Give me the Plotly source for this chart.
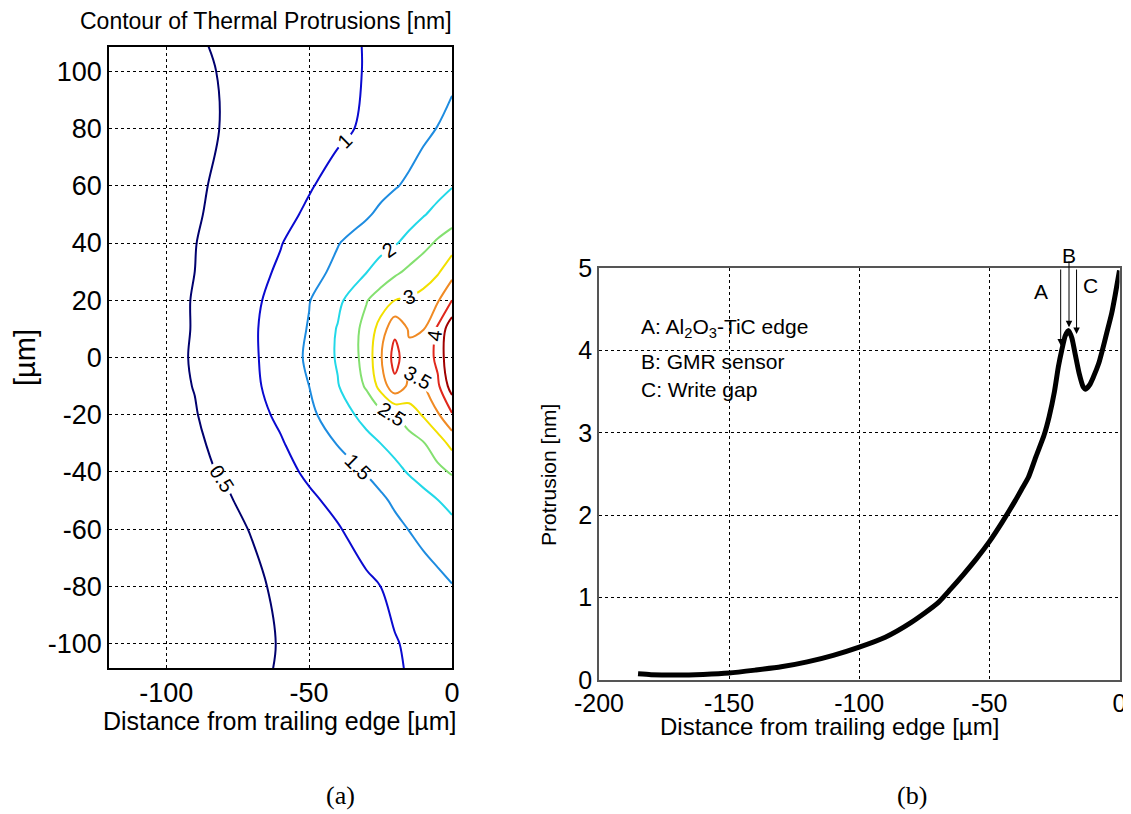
import plotly.graph_objects as go

# ---- (a) contour of thermal protrusion [nm] ----
grid_x = [-120, -110, -100, -90, -80, -70, -60, -50, -40, -30, -25, -20, -15, -10, -5, 0]
grid_y = [-110, -100, -80, -60, -50, -40, -30, -20, -10, 0, 10, 20, 30, 40, 50, 60, 80, 100, 110]
grid_z = [
    [0.21, 0.26, 0.31, 0.36, 0.40, 0.45, 0.52, 0.62, 0.74, 0.85, 0.91, 0.96, 1.02, 1.09, 1.16, 1.23],
    [0.21, 0.26, 0.31, 0.36, 0.41, 0.45, 0.51, 0.63, 0.75, 0.86, 0.92, 0.98, 1.04, 1.12, 1.20, 1.28],
    [0.22, 0.27, 0.32, 0.37, 0.42, 0.455, 0.54, 0.67, 0.80, 0.93, 1.00, 1.08, 1.17, 1.27, 1.37, 1.48],
    [0.22, 0.28, 0.34, 0.39, 0.44, 0.51, 0.66, 0.81, 0.97, 1.17, 1.27, 1.40, 1.51, 1.64, 1.76, 1.88],
    [0.23, 0.29, 0.35, 0.40, 0.45, 0.59, 0.76, 0.93, 1.10, 1.33, 1.43, 1.56, 1.70, 1.84, 1.99, 2.12],
    [0.24, 0.31, 0.38, 0.44, 0.52, 0.68, 0.87, 1.07, 1.30, 1.52, 1.64, 1.86, 2.04, 2.20, 2.38, 2.55],
    [0.22, 0.29, 0.37, 0.45, 0.58, 0.77, 0.96, 1.23, 1.52, 1.84, 2.00, 2.16, 2.32, 2.47, 2.75, 3.15],
    [0.22, 0.30, 0.39, 0.48, 0.66, 0.85, 1.08, 1.40, 1.75, 2.17, 2.33, 2.50, 2.73, 3.05, 3.45, 3.95],
    [0.22, 0.31, 0.41, 0.51, 0.72, 0.91, 1.18, 1.50, 1.97, 2.55, 3.17, 3.85, 3.40, 3.45, 3.90, 4.75],
    [0.22, 0.30, 0.40, 0.53, 0.70, 0.93, 1.22, 1.58, 2.05, 2.66, 3.44, 4.20, 3.62, 3.66, 4.13, 5.00],
    [0.21, 0.29, 0.39, 0.52, 0.71, 0.94, 1.21, 1.53, 2.03, 2.65, 3.20, 3.88, 3.45, 3.49, 4.08, 4.85],
    [0.21, 0.29, 0.39, 0.52, 0.72, 0.91, 1.16, 1.48, 1.88, 2.47, 2.73, 3.00, 3.05, 3.15, 3.45, 4.00],
    [0.20, 0.28, 0.38, 0.50, 0.68, 0.86, 1.06, 1.34, 1.60, 1.98, 2.20, 2.40, 2.60, 2.78, 2.94, 3.30],
    [0.19, 0.27, 0.37, 0.49, 0.64, 0.82, 0.98, 1.23, 1.48, 1.71, 1.83, 1.96, 2.14, 2.35, 2.57, 2.78],
    [0.19, 0.27, 0.36, 0.46, 0.60, 0.75, 0.89, 1.06, 1.20, 1.45, 1.58, 1.70, 1.82, 1.97, 2.13, 2.25],
    [0.20, 0.29, 0.36, 0.45, 0.56, 0.70, 0.84, 0.97, 1.13, 1.30, 1.38, 1.47, 1.57, 1.70, 1.84, 1.98],
    [0.22, 0.30, 0.37, 0.44, 0.51, 0.60, 0.70, 0.80, 0.93, 1.05, 1.12, 1.20, 1.30, 1.41, 1.51, 1.62],
    [0.20, 0.27, 0.35, 0.44, 0.52, 0.60, 0.69, 0.79, 0.89, 1.02, 1.08, 1.14, 1.21, 1.28, 1.34, 1.41],
    [0.21, 0.28, 0.36, 0.47, 0.54, 0.61, 0.70, 0.80, 0.90, 1.02, 1.07, 1.12, 1.18, 1.25, 1.31, 1.37],
]
levels = [0.5, 1.0, 1.5, 2.0, 2.5, 3.0, 3.5, 4.0, 4.5]
level_colors = ['#00006e', '#0a0ad0', '#1e8ce0', '#22d8e8', '#84e070',
                '#f2e000', '#f08a24', '#e0281c', '#a00000']

a_xticks = [-100, -50, 0]
a_xlabels = ['-100', '-50', '0']
a_yticks = [-100, -80, -60, -40, -20, 0, 20, 40, 60, 80, 100]
a_ylabels = ['-100', '-80', '-60', '-40', '-20', '0', '20', '40', '60', '80', '100']

# ---- (b) protrusion along the centre line ----
dist = [-185, -180, -170, -160, -150, -140, -130, -120, -110, -100, -90, -80, -70, -65,
        -60, -55, -50, -45, -40, -37.5, -35, -32, -29, -27, -25, -23.5, -22.2, -20.8,
        -19.5, -18.3, -17, -15.5, -14, -13, -11.5, -10, -8, -6.6, -5, -3, -1.5, 0]
protrusion = [0.076, 0.065, 0.06, 0.068, 0.085, 0.12, 0.16, 0.22, 0.30, 0.40, 0.52, 0.70, 0.93, 1.1,
              1.28, 1.47, 1.68, 1.92, 2.18, 2.32, 2.46, 2.72, 2.97, 3.2, 3.5, 3.8, 4.0, 4.18,
              4.24, 4.15, 3.95, 3.72, 3.56, 3.53, 3.58, 3.68, 3.84, 4.0, 4.2, 4.45, 4.7, 4.97]

b_xticks = [-200, -150, -100, -50, 0]
b_xlabels = ['-200', '-150', '-100', '-50', '0']
b_yticks = [0, 1, 2, 3, 4, 5]
b_ylabels = ['0', '1', '2', '3', '4', '5']

arrow_names = ['A', 'B', 'C']
arrow_x = [-22.6, -19.4, -16.5]
arrow_tip = [4.06, 4.28, 4.2]
arrow_top = [5.0, 5.1, 5.0]
arrow_label_x = [-30.3, -19.5, -11.1]
arrow_label_y = [4.71, 5.32, 4.79]

legend_lines = ['A: Al<sub>2</sub>O<sub>3</sub>-TiC edge', 'B: GMR sensor', 'C: Write gap']
legend_y = [4.27, 3.86, 3.52]

FONT = 'Arial, Liberation Sans, sans-serif'
SERIF = 'Liberation Serif, Times New Roman, serif'

# the page body adds an 8px margin, so the figure is a bit smaller than the window
OFF = 8
W, H = 1131 - OFF, 814 - OFF

# pixel frame of panel (b), used to place the label that sits above it
B_TOP, B_BOTTOM = 268, 680


def fx(px):
    return (px - OFF) / W


def fy(py):
    return 1 - (py - OFF) / H


n = len(levels) - 1
cscale = [[i / n, c] for i, c in enumerate(level_colors)]

fig = go.Figure()
fig.add_trace(go.Contour(
    x=grid_x, y=grid_y, z=grid_z,
    xaxis='x', yaxis='y',
    zmin=levels[0], zmax=levels[-1],
    autocontour=False,
    contours=dict(start=levels[0], end=levels[-1], size=0.5, coloring='lines',
                  showlabels=True, labelfont=dict(size=20, color='black', family=FONT)),
    colorscale=cscale,
    line=dict(width=2),
    showscale=False,
    hoverinfo='skip',
))

fig.add_trace(go.Scatter(
    x=dist, y=protrusion, xaxis='x2', yaxis='y2',
    mode='lines', line=dict(color='black', width=5, shape='spline', smoothing=0.6),
    showlegend=False, hoverinfo='skip',
))

grid_common = dict(showgrid=True, gridcolor='black', gridwidth=1, griddash='3px,3px',
                   zeroline=False, showline=True, mirror=True, ticks='', automargin=False)

fig.update_layout(
    width=W, height=H,
    margin=dict(l=0, r=0, t=0, b=0),
    paper_bgcolor='white', plot_bgcolor='white',
    showlegend=False,
    font=dict(family=FONT, color='black'),
    xaxis=dict(domain=[fx(109), fx(452)], range=[-120, 0],
               tickvals=a_xticks, ticktext=a_xlabels,
               linecolor='black', linewidth=1.5, tickfont=dict(size=27), anchor='y',
               **grid_common),
    yaxis=dict(domain=[fy(668), fy(47)], range=[-108.5, 108.5],
               tickvals=a_yticks, ticktext=a_ylabels,
               linecolor='black', linewidth=1.5, tickfont=dict(size=27), anchor='x',
               **grid_common),
    xaxis2=dict(domain=[fx(599), fx(1119.5)], range=[-200, 0],
                tickvals=b_xticks, ticktext=b_xlabels,
                linecolor='#555555', linewidth=1.5, tickfont=dict(size=25), anchor='y2',
                **grid_common),
    yaxis2=dict(domain=[fy(B_BOTTOM), fy(B_TOP)], range=[0, 5],
                tickvals=b_yticks, ticktext=b_ylabels,
                linecolor='#555555', linewidth=1.5, tickfont=dict(size=25), anchor='x2',
                **grid_common),
)

ann = []
# titles and axis labels
ann.append(dict(text='Contour of Thermal Protrusions [nm]', x=fx(266), y=fy(21),
                font=dict(size=23)))
ann.append(dict(text='Distance from trailing edge [µm]', x=fx(279), y=fy(721),
                font=dict(size=25)))
ann.append(dict(text='[µm]', x=fx(25), y=fy(358), textangle=-90, font=dict(size=29)))
ann.append(dict(text='Distance from trailing edge [µm]', x=fx(829), y=fy(726),
                font=dict(size=24)))
ann.append(dict(text='Protrusion [nm]', x=fx(548), y=fy(475), textangle=-90,
                font=dict(size=21)))
ann.append(dict(text='(a)', x=fx(340), y=fy(795), font=dict(size=26, family=SERIF)))
ann.append(dict(text='(b)', x=fx(912), y=fy(795), font=dict(size=26, family=SERIF)))
for a in ann:
    a.update(xref='paper', yref='paper', showarrow=False, xanchor='center', yanchor='middle')

# arrows marking A, B, C
for name, xa, tip, top, lx, ly in zip(arrow_names, arrow_x, arrow_tip, arrow_top,
                                      arrow_label_x, arrow_label_y):
    ann.append(dict(x=xa, y=tip, ax=xa, ay=top, xref='x2', yref='y2', axref='x2', ayref='y2',
                    text='', showarrow=True, arrowhead=2, arrowsize=1.3, arrowwidth=1,
                    arrowcolor='black'))
    label = dict(x=lx, xref='x2', text=name, showarrow=False, font=dict(size=21))
    if ly > 5:
        # above the frame: data-anchored annotations there would be hidden
        py = B_BOTTOM - ly / 5 * (B_BOTTOM - B_TOP)
        label.update(y=fy(py), yref='paper')
    else:
        label.update(y=ly, yref='y2')
    ann.append(label)

for line, ly in zip(legend_lines, legend_y):
    ann.append(dict(x=-184.5, y=ly, xref='x2', yref='y2', text=line, showarrow=False,
                    xanchor='left', yanchor='middle', font=dict(size=21)))

fig.update_layout(annotations=ann)

fig.write_html("out.html")
